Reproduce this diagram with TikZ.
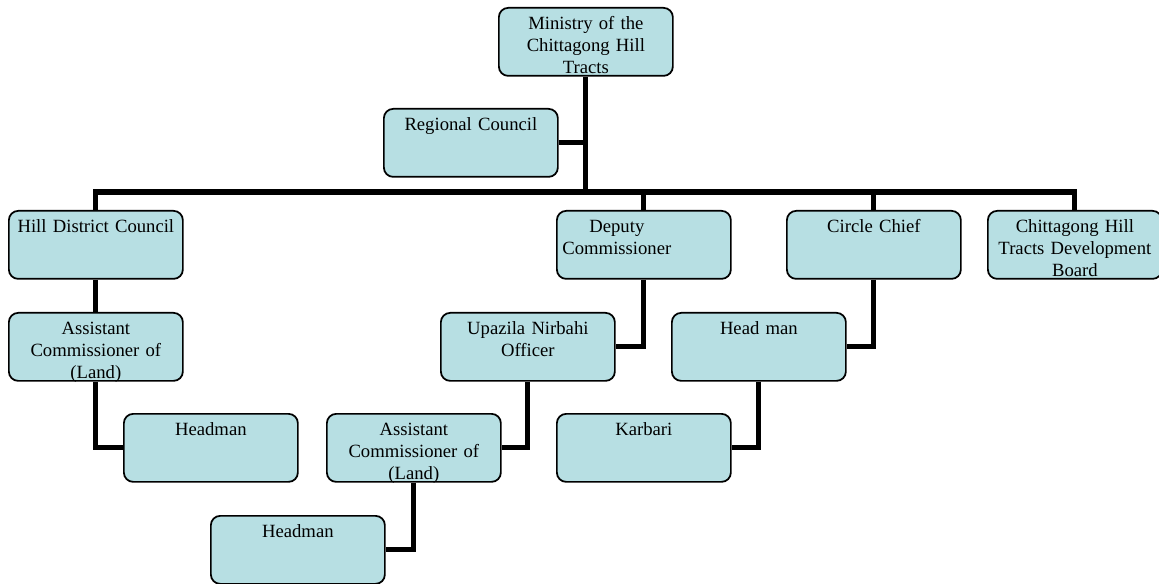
\documentclass[tikz,border=0pt]{standalone}
\usepackage{fontspec}
\setmainfont{Liberation Serif}
\usepackage{xcolor}
\usepackage{tikz}
\usetikzlibrary{positioning, calc}
\definecolor{unitblue}{RGB}{183, 223, 227}

\begin{document}
\begin{tikzpicture}[
    x=0.75pt, y=-0.75pt,
    unit/.style={draw=black, line width=1.3pt, rounded corners=7pt, fill=unitblue,
                 anchor=north west, minimum width=130.5pt, minimum height=51pt,
                 text width=122.5pt, inner xsep=4pt, inner ysep=4pt,
                 text height=12.5pt, text depth=30.5pt, align=center,
                 font=\fontsize{14}{16.3}\selectfont},
    link/.style={line width=3.8pt, draw=black}
]
    \useasboundingbox (0,0) rectangle (1159,584);

    % top of the chart
    \node[unit] (min) at (498,7) {Ministry of the\\Chittagong Hill\\Tracts};
    \node[unit] (rc) at (383,108) {Regional Council};

    % second row
    \node[unit] (hdc) at (8,210) {Hill District Council};
    \node[unit, align=left] (dc) at (556,210)
        {\parbox[t]{82pt}{\centering Deputy\\Commissioner}};
    \node[unit] (cc) at (786,210) {Circle Chief};
    \node[unit] (cdb) at (987,210) {Chittagong Hill\\Tracts Development\\Board};

    % lower rows
    \node[unit] (acl) at (8,312) {Assistant\\Commissioner of\\(Land)};
    \node[unit] (uno) at (440,312) {Upazila Nirbahi\\Officer};
    \node[unit] (hm) at (671,312) {Head man};
    \node[unit] (hml) at (123,413) {Headman};
    \node[unit] (acm) at (326,413) {Assistant\\Commissioner of\\(Land)};
    \node[unit] (kb) at (556,413) {Karbari};
    \node[unit] (hmb) at (210,515) {Headman};

    \coordinate (bus) at (min.south |- 0,192);

    % connectors
    \draw[link] (min.south) -- (bus);
    \draw[link] (rc.east) -- (rc.east -| min.south);
    \draw[link] (hdc.north) |- (bus) -| (cdb.north);
    \draw[link] (bus -| dc.north) -- (dc.north);
    \draw[link] (bus -| cc.north) -- (cc.north);
    \draw[link] (hdc.south) -- (acl.north);
    \draw[link] (acl.south) |- (hml.west);
    \draw[link] (dc.south) |- (uno.east);
    \draw[link] (uno.south) |- (acm.east);
    \draw[link] (acm.south) |- (hmb.east);
    \draw[link] (cc.south) |- (hm.east);
    \draw[link] (hm.south) |- (kb.east);
\end{tikzpicture}
\end{document}
